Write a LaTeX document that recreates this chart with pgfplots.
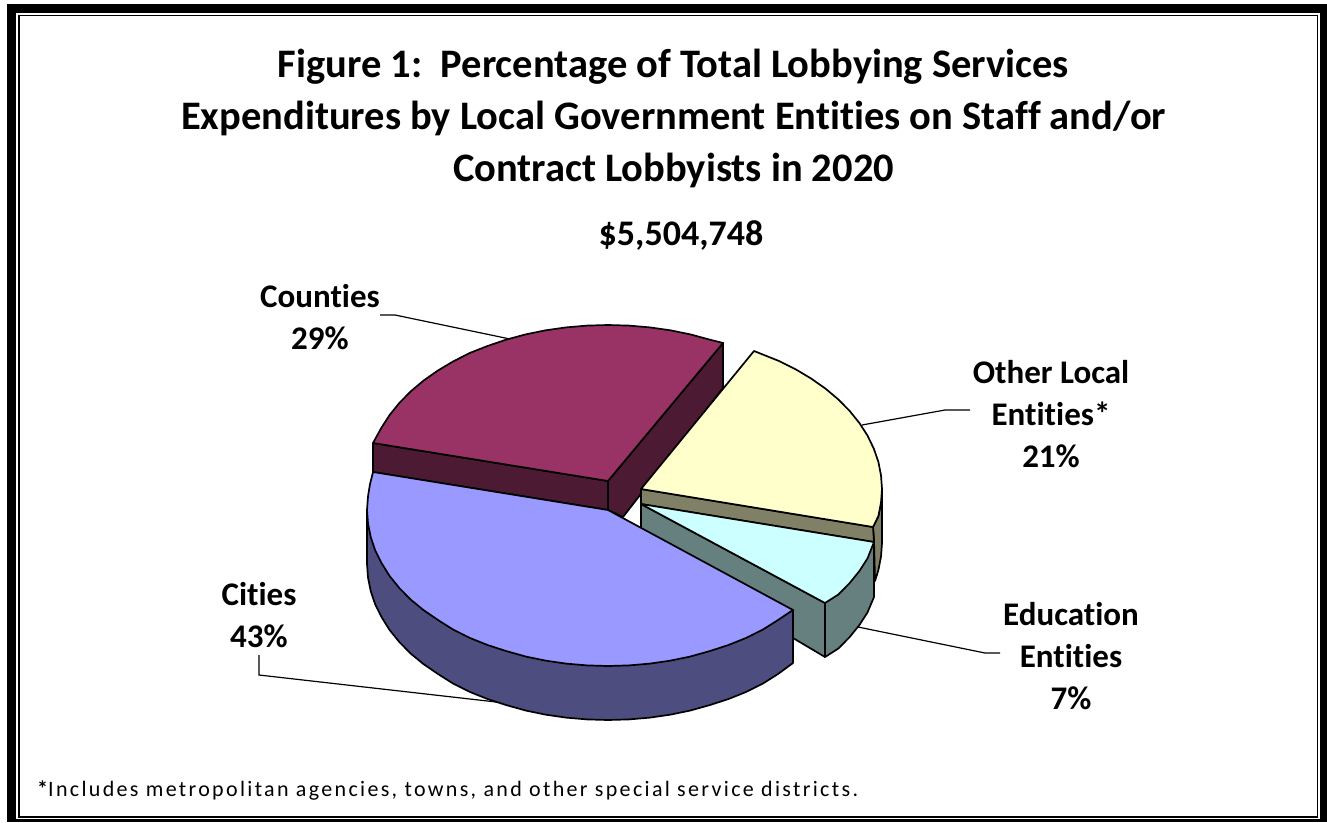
\documentclass[border=0pt]{standalone}
\usepackage{fontspec}
\setmainfont[Ligatures=NoCommon]{Carlito}
\usepackage{pgfplots}
\pgfplotsset{compat=1.18}

\definecolor{countyTop}{HTML}{993366}
\definecolor{countySide}{HTML}{4D1A33}
\definecolor{otherTop}{HTML}{FFFFCC}
\definecolor{otherSide}{HTML}{808066}
\definecolor{eduTop}{HTML}{CCFFFF}
\definecolor{eduSide}{HTML}{668080}
\definecolor{cityTop}{HTML}{9999FF}
\definecolor{citySide}{HTML}{4D4D80}

\pgfplotsset{
    slice/.style={draw=black, line width=1.7pt, line join=round, fill=#1, no markers},
    leader/.style={draw=black, line width=1.2pt, no markers},
    frame/.style={draw=none, fill=#1, no markers},
}
\newcommand{\titlefont}{\fontsize{40.5}{40.5}\selectfont\bfseries}
\newcommand{\labelfont}{\fontsize{33}{33}\selectfont\bfseries}

\begin{document}
\begin{tikzpicture}
\useasboundingbox (0,0) rectangle (1327pt,822pt);
\begin{axis}[
    scale only axis,
    width=1327pt,
    height=822pt,
    xmin=0, xmax=1327,
    ymin=0, ymax=822,
    y dir=reverse,
    hide axis,
    clip=false,
]
% frame
\addplot[frame=black] coordinates {(7,4)(1327,4)(1327,822)(7,822)} --cycle;
\addplot[frame=white] coordinates {(16,13)(1320,13)(1320,819)(16,819)} --cycle;
\addplot[frame=black] coordinates {(18,14.5)(1318,14.5)(1318,817.5)(18,817.5)} --cycle;
\addplot[frame=white] coordinates {(19.5,16)(1316.5,16)(1316.5,816)(19.5,816)} --cycle;

% leader lines
\addplot[leader] coordinates {(380,315)(395,315)(510,339)};
\addplot[leader] coordinates {(970,410)(945,410)(862,425)};
\addplot[leader] coordinates {(1000,653)(985,653)(858,627)};
\addplot[leader] coordinates {(259,655)(259,675)(505,703)};

% Counties 29%
\addplot[slice=countySide] coordinates {(608,481)(723,343)(723,388)(623,517)(608,510)} --cycle;
\addplot[slice=countySide] coordinates {(373,443)(608,481)(608,510)(373,472)} --cycle;
\addplot[slice=countyTop] coordinates {
    (608,481)(373,443)(381.5,427.6)(389.6,415)(399.3,403)(410.6,391.5)(423.4,380.7)
    (437.6,370.7)(453,361.5)(469.7,353)(487.5,346)(506,339.7)(525.6,334.4)(545.6,330.3)
    (566,327.4)(587,325.6)(608,325)(629,325.6)(650,327.4)(670.4,330.3)(690.4,334.4)
    (710,339.7)(723,343)} --cycle;

% Other Local Entities 21%
\addplot[slice=otherSide] coordinates {
    (873,527)(878.4,516)(881,502.6)(882,489)(882,543)(881,556.6)(878.4,570)(875,581)(874,541)} --cycle;
\addplot[slice=otherSide] coordinates {(641,489)(873,527)(874,542)(641,504)} --cycle;
\addplot[slice=otherTop] coordinates {
    (641,489)(754,351)(761.5,354)(779,361)(796,369.5)(811.4,378.7)(825.6,388.7)(838.4,399.5)
    (849.7,411)(859.4,423)(867.5,435.6)(873.8,448.6)(878.4,462)(881,475.4)(882,489)
    (881,502.6)(878.4,516)(873,527)} --cycle;

% Education Entities 7%
\addplot[slice=eduSide] coordinates {
    (874,542)(874,597)(867.5,612.4)(859.4,625)(849.7,637)(838.4,648.5)(825,657)(825,603)} --cycle;
\addplot[slice=eduSide] coordinates {(641,504)(825,603)(825,657)(793,638)(641,553)} --cycle;
\addplot[slice=eduTop] coordinates {
    (641,504)(874,542)(867.5,558.4)(859.4,571)(849.7,583)(838.4,594.5)(825,603)} --cycle;

% Cities 43%
\addplot[slice=citySide] coordinates {
    (793,610)(793,663)(778,674)(763,683.5)(746,692)(728.5,699)(710,705)(690,710.6)(670,714.7)
    (650,717.6)(629,719.4)(608,720)(587,719.4)(566,717.6)(546,714.7)(526,710.6)(506,705)
    (487.5,699)(470,692)(453,683.5)(438,674)(423.4,664)(410.6,653.5)(399.3,642)(389.6,630)
    (381.5,617)(375.2,604.4)(370.7,591)(368,577.6)(367,564)(367,510)} --cycle;
\addplot[slice=cityTop] coordinates {
    (373,472)(608,510)(793,610)(778,620)(763,629.5)(746,638)(728.5,645)(710,651)(690,656.6)
    (670,660.7)(650,663.6)(629,665.4)(608,666)(587,665.4)(566,663.6)(546,660.7)(526,656.6)
    (506,651)(487.5,645)(470,638)(453,629.5)(438,620)(423.4,610)(410.6,599.5)(399.3,588)
    (389.6,576)(381.5,563)(375.2,550.4)(370.7,537)(368,523.6)(367,510)(368,496.4)(370,484)} --cycle;

% titles
\node[anchor=base, font=\titlefont] at (axis cs:673.5,77) {Figure 1:\ \ Percentage of Total Lobbying Services};
\node[anchor=base, font=\titlefont] at (axis cs:673.5,129) {Expenditures by Local Government Entities on Staff and/or};
\node[anchor=base, font=\titlefont] at (axis cs:673.5,181) {Contract Lobbyists in 2020};
\node[anchor=base, font=\fontsize{36}{36}\selectfont\bfseries] at (axis cs:681,245) {\$5,504,748};

% slice labels
\node[anchor=base, font=\labelfont] at (axis cs:320,307) {Counties};
\node[anchor=base, font=\labelfont] at (axis cs:320,349) {29\%};
\node[anchor=base, font=\labelfont] at (axis cs:1051,383) {Other Local};
\node[anchor=base, font=\labelfont] at (axis cs:1051,425) {Entities*};
\node[anchor=base, font=\labelfont] at (axis cs:1051,467) {21\%};
\node[anchor=base, font=\labelfont] at (axis cs:1071,625) {Education};
\node[anchor=base, font=\labelfont] at (axis cs:1071,667) {Entities};
\node[anchor=base, font=\labelfont] at (axis cs:1071,709) {7\%};
\node[anchor=base, font=\labelfont] at (axis cs:259,605) {Cities};
\node[anchor=base, font=\labelfont] at (axis cs:259,647) {43\%};

% footnote
\node[anchor=base west, inner sep=0pt, font=\fontsize{22}{22}\selectfont] at (axis cs:37,796)
    {\textbf{*}\addfontfeatures{LetterSpace=10.6}Includes metropolitan agencies, towns, and other special service districts.};
\end{axis}
\end{tikzpicture}
\end{document}
